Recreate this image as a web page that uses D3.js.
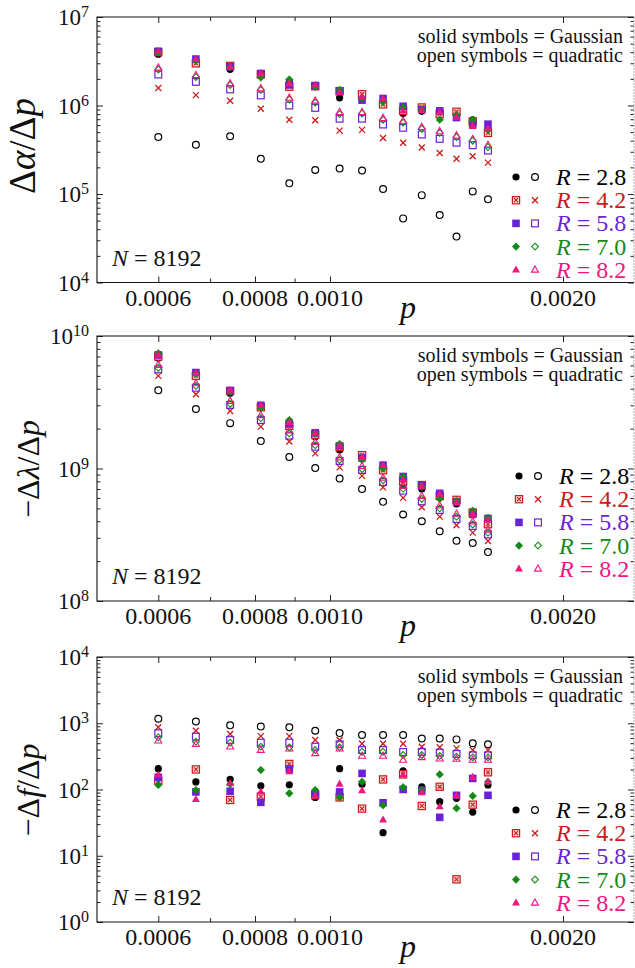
<!DOCTYPE html>
<html>
<head>
<meta charset="utf-8">
<script src="https://cdn.jsdelivr.net/npm/d3@7"></script>
<style>
  body { margin: 0; background: #fff; }
</style>
</head>
<body>
<div id="chart"></div>
<script>
// p values (x axis, log)
const pValues = [0.0006, 0.000671, 0.000743, 0.000814, 0.000886, 0.000957, 0.001029, 0.0011,
                 0.001171, 0.001243, 0.001314, 0.001386, 0.001457, 0.001529, 0.0016];
const radii = ["2.8", "4.2", "5.8", "7.0", "8.2"];
const colors = ["#000000", "#cc1a1a", "#6a22d8", "#138a17", "#f0167f"];
const xMajor = [0.0006, 0.0008, 0.0010, 0.0020];
const xMinor = [0.0007, 0.0009];
const xLabels = ["0.0006", "0.0008", "0.0010", "0.0020"];

// panel 1: Δα/Δp  (rows = R 2.8, 4.2, 5.8, 7.0, 8.2)
const alphaSolid = [
  [3.8e6, 3.1e6, 2.56e6, 2.2e6, 1.85e6, 1.65e6, 1.22e6, 1.2e6, 1.1e6, 8.1e5, 8.6e5, 7.8e5, 8.0e5, 6.9e5, 5.4e5],
  [4.0e6, 2.99e6, 2.8e6, 2.25e6, 1.63e6, 1.65e6, 1.45e6, 1.34e6, 1.03e6, 8.7e5, 9.5e5, 8.0e5, 8.5e5, 6.6e5, 4.9e5],
  [4.1e6, 3.35e6, 2.74e6, 2.3e6, 1.71e6, 1.68e6, 1.47e6, 1.15e6, 1.2e6, 9.8e5, 9.0e5, 8.7e5, 7.3e5, 6.15e5, 6.15e5],
  [4.0e6, 3.2e6, 2.7e6, 2.07e6, 1.97e6, 1.63e6, 1.5e6, 1.2e6, 1.1e6, 9.5e5, 8.9e5, 6.9e5, 7.8e5, 6.9e5, 5.3e5],
  [4.1e6, 3.32e6, 2.74e6, 2.3e6, 1.77e6, 1.7e6, 1.4e6, 1.25e6, 1.19e6, 8.7e5, 8.8e5, 8.5e5, 7.4e5, 5.83e5, 5.5e5]
];
const alphaOpen = [
  [4.4e5, 3.6e5, 4.5e5, 2.5e5, 1.32e5, 1.87e5, 1.94e5, 1.84e5, 1.14e5, 5.3e4, 9.7e4, 5.8e4, 3.3e4, 1.07e5, 8.7e4],
  [1.58e6, 1.31e6, 1.13e6, 9.2e5, 6.9e5, 6.8e5, 5.2e5, 5.3e5, 4.3e5, 3.8e5, 3.35e5, 2.9e5, 2.5e5, 2.67e5, 2.26e5],
  [2.24e6, 1.85e6, 1.52e6, 1.3e6, 1.0e6, 9.4e5, 7.1e5, 7.1e5, 6.1e5, 5.6e5, 4.7e5, 4.2e5, 3.8e5, 3.56e5, 3.1e5],
  [2.55e6, 2.1e6, 1.7e6, 1.5e6, 1.17e6, 1.08e6, 8.0e5, 8.1e5, 6.9e5, 6.4e5, 5.45e5, 4.9e5, 4.4e5, 4.0e5, 3.4e5],
  [2.67e6, 2.2e6, 1.77e6, 1.56e6, 1.22e6, 1.13e6, 8.4e5, 8.4e5, 7.2e5, 6.7e5, 5.7e5, 5.1e5, 4.57e5, 4.16e5, 3.56e5]
];

// panel 2: −Δλ/Δp
const lambdaSolid = [
  [6.8e9, 5.0e9, 3.7e9, 2.9e9, 2.2e9, 1.74e9, 1.38e9, 1.2e9, 1.03e9, 7.5e8, 7.0e8, 6.2e8, 5.4e8, 4.7e8, 4.0e8],
  [7.0e9, 5.0e9, 3.85e9, 2.9e9, 2.1e9, 1.8e9, 1.45e9, 1.26e9, 9.7e8, 8.0e8, 7.5e8, 6.2e8, 5.8e8, 4.65e8, 3.8e8],
  [7.2e9, 5.3e9, 3.87e9, 3.0e9, 2.17e9, 1.86e9, 1.48e9, 1.2e9, 1.06e9, 8.7e8, 7.4e8, 6.5e8, 5.6e8, 4.5e8, 4.2e8],
  [7.4e9, 5.2e9, 3.8e9, 2.85e9, 2.32e9, 1.84e9, 1.53e9, 1.16e9, 1.0e9, 8.7e8, 7.3e8, 5.9e8, 5.7e8, 4.8e8, 4.25e8],
  [7.2e9, 5.25e9, 3.9e9, 3.0e9, 2.22e9, 1.86e9, 1.48e9, 1.22e9, 1.06e9, 8.2e8, 7.35e8, 6.4e8, 5.5e8, 4.5e8, 4.1e8]
];
const lambdaOpen = [
  [3.89e9, 2.81e9, 2.2e9, 1.61e9, 1.22e9, 1.01e9, 8.4e8, 7.0e8, 5.6e8, 4.5e8, 4.0e8, 3.36e8, 2.85e8, 2.74e8, 2.34e8],
  [5.0e9, 3.63e9, 2.72e9, 2.07e9, 1.6e9, 1.3e9, 1.02e9, 8.8e8, 7.2e8, 6.0e8, 5.1e8, 4.33e8, 3.73e8, 3.28e8, 2.84e8],
  [5.6e9, 4.07e9, 3.02e9, 2.32e9, 1.77e9, 1.46e9, 1.14e9, 9.75e8, 7.9e8, 6.8e8, 5.65e8, 4.86e8, 4.16e8, 3.68e8, 3.18e8],
  [5.75e9, 4.2e9, 3.08e9, 2.4e9, 1.84e9, 1.5e9, 1.16e9, 9.9e8, 8.15e8, 7.05e8, 5.9e8, 5.0e8, 4.33e8, 3.78e8, 3.28e8],
  [6.04e9, 4.39e9, 3.23e9, 2.52e9, 1.93e9, 1.58e9, 1.21e9, 1.04e9, 8.5e8, 7.4e8, 6.2e8, 5.24e8, 4.54e8, 3.97e8, 3.44e8]
];

// panel 3: −Δf/Δp
const fSolid = [
  [206, 130, 142, 114, 118, 76, 206, 120, 22.3, 192, 110, 65.5, 73.6, 45.7, 117],
  [136, 201, 69.5, 78, 243, 82, 76, 51.4, 142, 169, 56.4, 110, 4.4, 59, 182],
  [153, 92, 94, 64, 204, 85.5, 92, 175, 63, 100, 98, 38, 81.7, 147, 81.7],
  [117, 98, 120, 197, 87.5, 98, 76, 131, 58, 108, 98, 169, 52, 80, 131],
  [166, 71, 124, 92, 186, 80, 121, 96, 34.7, 166, 89.6, 55, 80, 153, 130]
];
const fOpen = [
  [1170, 1060, 930, 890, 870, 770, 710, 665, 665, 665, 590, 590, 570, 500, 480],
  [870, 770, 690, 640, 640, 560, 560, 490, 490, 490, 443, 433, 418, 394, 394],
  [705, 627, 559, 509, 509, 443, 481, 394, 394, 368, 368, 360, 344, 328, 328],
  [613, 527, 509, 443, 433, 394, 433, 372, 372, 332, 332, 321, 313, 306, 306],
  [546, 486, 443, 394, 413, 352, 413, 321, 321, 279, 306, 292, 289, 279, 279]
];

const titles = [
  [["Δ", false], ["α", true], ["/Δ", false], ["p", true]],
  [["−Δ", false], ["λ", true], ["/Δ", false], ["p", true]],
  [["−Δ", false], ["f", true], ["/Δ", false], ["p", true]]
];

const panels = [
  {top: 17, bottom: 282.5, lo: 1e4, hi: 1e7, solid: alphaSolid, open: alphaOpen,
   legY: 177, legX: 516, tSize: 37, tX: 35, tY: 146},
  {top: 336, bottom: 601, lo: 1e8, hi: 1e10, solid: lambdaSolid, open: lambdaOpen,
   legY: 476, legX: 519, tSize: 32, tX: 39, tY: 469},
  {top: 657, bottom: 922, lo: 1, hi: 1e4, solid: fSolid, open: fOpen,
   legY: 810, legX: 516, tSize: 32, tX: 39, tY: 790}
];

const W = 635, H = 968;
const frameL = 97, frameR = 634;
const serif = "Liberation Serif";

const svg = d3.select("#chart").append("svg")
  .attr("width", W).attr("height", H);

const x = d3.scaleLog().domain([0.0005, 0.0025]).range([97, 638]);

// add a text in the serif face
function label(g, tx, ty, size) {
  return g.append("text").attr("x", tx).attr("y", ty)
    .attr("font-family", serif).attr("font-size", size).attr("fill", "#111");
}

// one marker: i = series index (0..4), solid or open
function mark(g, i, solid, cx, cy) {
  const c = colors[i];
  const s = g.append("g").attr("transform", "translate(" + cx + "," + cy + ")");
  if (i === 0) {
    s.append("circle").attr("r", solid ? 3.6 : 3.4)
      .attr("fill", solid ? c : "none")
      .attr("stroke", c).attr("stroke-width", solid ? 0 : 1.2);
  } else if (i === 1) {
    if (solid) {
      s.append("rect").attr("x", -3.6).attr("y", -3.6).attr("width", 7.2).attr("height", 7.2)
        .attr("fill", "#fbd3d3").attr("stroke", c).attr("stroke-width", 1.2);
      s.append("path").attr("d", "M-2,-2L2,2M-2,2L2,-2")
        .attr("stroke", c).attr("stroke-width", 1.1);
    } else {
      s.append("path").attr("d", "M-3,-3L3,3M-3,3L3,-3")
        .attr("stroke", c).attr("stroke-width", 1.3).attr("fill", "none");
    }
  } else if (i === 2) {
    if (solid) {
      s.append("rect").attr("x", -3.8).attr("y", -3.8).attr("width", 7.6).attr("height", 7.6)
        .attr("fill", c);
    } else {
      s.append("rect").attr("x", -3.4).attr("y", -3.4).attr("width", 6.8).attr("height", 6.8)
        .attr("fill", "none").attr("stroke", c).attr("stroke-width", 1.2);
    }
  } else if (i === 3) {
    const r = solid ? 3.8 : 3.4;
    s.append("path").attr("d", "M0," + (-r) + "L" + r + ",0L0," + r + "L" + (-r) + ",0Z")
      .attr("fill", solid ? c : "none")
      .attr("stroke", c).attr("stroke-width", solid ? 0.6 : 1.1);
  } else {
    const r = solid ? 4.4 : 3.9;
    s.append("path").attr("d", "M0," + (-r) + "L" + (r * 0.9) + "," + (r * 0.6) + "L" + (-r * 0.9) + "," + (r * 0.6) + "Z")
      .attr("fill", solid ? c : "none")
      .attr("stroke", c).attr("stroke-width", solid ? 0 : 1.1);
  }
}

panels.forEach(function (pc, k) {
  const y = d3.scaleLog().domain([pc.lo, pc.hi]).range([pc.bottom, pc.top]);
  const g = svg.append("g");

  // major / minor y ticks
  const yMajor = [];
  const yMinor = [];
  for (let e = Math.round(Math.log10(pc.lo)); e <= Math.round(Math.log10(pc.hi)); e++) {
    yMajor.push(Math.pow(10, e));
    for (let m = 2; m <= 9; m++) {
      if (m * Math.pow(10, e) < pc.hi) yMinor.push(m * Math.pow(10, e));
    }
  }

  function styleAxis(a) {
    a.select(".domain").remove();
    a.selectAll("line").attr("stroke", "#222").attr("stroke-width", 1);
  }

  g.append("g").attr("transform", "translate(" + frameL + ",0)")
    .call(d3.axisLeft(y).tickValues(yMajor).tickSize(-6).tickFormat("")).call(styleAxis);
  g.append("g").attr("transform", "translate(" + frameL + ",0)")
    .call(d3.axisLeft(y).tickValues(yMinor).tickSize(-3.5).tickFormat("")).call(styleAxis);
  g.append("g").attr("transform", "translate(" + frameR + ",0)")
    .call(d3.axisRight(y).tickValues(yMajor).tickSize(-6).tickFormat("")).call(styleAxis);
  g.append("g").attr("transform", "translate(" + frameR + ",0)")
    .call(d3.axisRight(y).tickValues(yMinor).tickSize(-3.5).tickFormat(""))
    .call(styleAxis);

  g.append("g").attr("transform", "translate(0," + pc.bottom + ")")
    .call(d3.axisBottom(x).tickValues(xMajor).tickSize(-6).tickFormat("")).call(styleAxis);
  g.append("g").attr("transform", "translate(0," + pc.bottom + ")")
    .call(d3.axisBottom(x).tickValues(xMinor).tickSize(-4).tickFormat("")).call(styleAxis);
  g.append("g").attr("transform", "translate(0," + pc.top + ")")
    .call(d3.axisTop(x).tickValues(xMajor).tickSize(-6).tickFormat("")).call(styleAxis);
  g.append("g").attr("transform", "translate(0," + pc.top + ")")
    .call(d3.axisTop(x).tickValues(xMinor).tickSize(-4).tickFormat("")).call(styleAxis);

  // frame (right edge is cut off in the original, only faintly visible)
  g.append("path")
    .attr("d", "M" + frameR + "," + pc.top + "H" + frameL + "V" + pc.bottom + "H" + frameR)
    .attr("fill", "none").attr("stroke", "#111").attr("stroke-width", 1.1);
  g.append("line").attr("x1", frameR).attr("x2", frameR).attr("y1", pc.top).attr("y2", pc.bottom)
    .attr("stroke", "#aaa").attr("stroke-width", 1).attr("stroke-dasharray", "2,1");

  // y tick labels 10^n
  yMajor.forEach(function (v) {
    const t = label(g, 89, y(v) + 8, 23).attr("text-anchor", "end");
    t.append("tspan").text("10");
    t.append("tspan").attr("dy", -8).attr("font-size", 16).text(Math.round(Math.log10(v)));
  });

  // x tick labels
  xMajor.forEach(function (v, j) {
    label(g, x(v), pc.bottom + 23, 24).attr("text-anchor", "middle").text(xLabels[j]);
  });

  // x axis title
  label(g, 408, pc.bottom + 35, 32).attr("text-anchor", "middle")
    .attr("font-style", "italic").text("p");

  // y axis title
  const yt = g.append("text")
    .attr("transform", "translate(" + pc.tX + "," + pc.tY + ") rotate(-90)")
    .attr("text-anchor", "middle").attr("font-family", serif)
    .attr("font-size", pc.tSize).attr("fill", "#111");
  titles[k].forEach(function (part) {
    yt.append("tspan").attr("font-style", part[1] ? "italic" : "normal").text(part[0]);
  });

  // notes
  label(g, 623, pc.top + 26, 20).attr("text-anchor", "end").text("solid symbols = Gaussian");
  label(g, 623, pc.top + 45, 20).attr("text-anchor", "end").text("open symbols = quadratic");

  const nt = label(g, 112, pc.bottom - 17, 24);
  nt.append("tspan").attr("font-style", "italic").text("N");
  nt.append("tspan").text(" = 8192");

  // data: solid first, then open
  const dots = g.append("g");
  pc.solid.forEach(function (row, i) {
    row.forEach(function (v, j) { mark(dots, i, true, x(pValues[j]), y(v)); });
  });
  pc.open.forEach(function (row, i) {
    row.forEach(function (v, j) { mark(dots, i, false, x(pValues[j]), y(v)); });
  });

  // legend
  radii.forEach(function (r, i) {
    const ly = pc.legY + i * 23.2;
    mark(g, i, true, pc.legX, ly);
    mark(g, i, false, pc.legX + 19, ly);
    const lt = label(g, pc.legX + 40, ly + 8, 24).attr("fill", colors[i]);
    lt.append("tspan").attr("font-style", "italic").text("R");
    lt.append("tspan").text(" = " + r);
  });
});
</script>
</body>
</html>
